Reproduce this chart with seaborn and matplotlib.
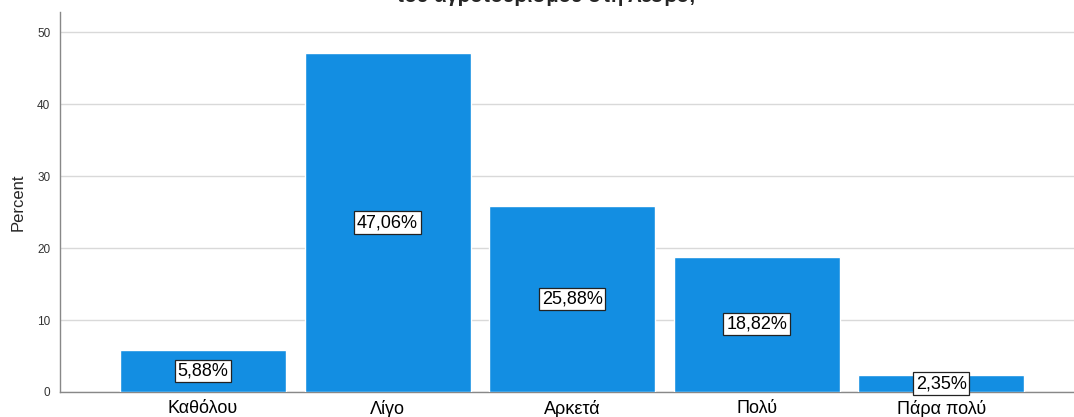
import pandas as pd
import seaborn as sns
import matplotlib.pyplot as plt

# data
categories = ["Καθόλου", "Λίγο", "Αρκετά", "Πολύ", "Πάρα πολύ"]
percents = [5.88, 47.06, 25.88, 18.82, 2.35]
yticks = [0, 10, 20, 30, 40, 50]

df = pd.DataFrame({"category": categories, "Percent": percents})

sns.set_style("white")
plt.rcParams['font.family'] = ['Liberation Sans', 'DejaVu Sans']

fig = plt.figure(figsize=(10.74, 4.17), dpi=100)
ax = fig.add_axes([60 / 1074, 25 / 417, 1 - 60 / 1074, 380 / 417])

sns.barplot(data=df, x="category", y="Percent", order=categories,
            color="#138ee2", width=0.9, saturation=1, ax=ax, zorder=3)

for i, v in enumerate(percents):
    ax.text(i, v / 2, f"{v:.2f}%".replace(".", ","), ha="center", va="center",
            fontsize=13, color="black", zorder=5,
            bbox=dict(boxstyle="square,pad=0.15", fc="white", ec="#222222", lw=0.9))

ax.set_xlim(-0.775, 4.72)
ax.set_ylim(0, 52.8)
ax.set_yticks(yticks)
ax.grid(axis="y", color="#d9d9d9", lw=1, zorder=0)
ax.tick_params(axis="y", labelsize=8.5, colors="#333333", length=0, pad=7)
ax.tick_params(axis="x", labelsize=13, colors="black", length=0, pad=6)
ax.set_xlabel("")
ax.set_ylabel("Percent", fontsize=12, labelpad=8)
for s in ["top", "right"]:
    ax.spines[s].set_visible(False)
for s in ["left", "bottom"]:
    ax.spines[s].set_color("#888888")
    ax.spines[s].set_linewidth(1)

# title is cut off at the top edge in the reference
fig.text(546 / 1074, 1 - 2 / 417, "του αγροτουρισμού στη Λέσβο;", ha="center",
         va="baseline", fontsize=14.5, fontweight="bold")

fig.savefig("out.png", dpi=100)
